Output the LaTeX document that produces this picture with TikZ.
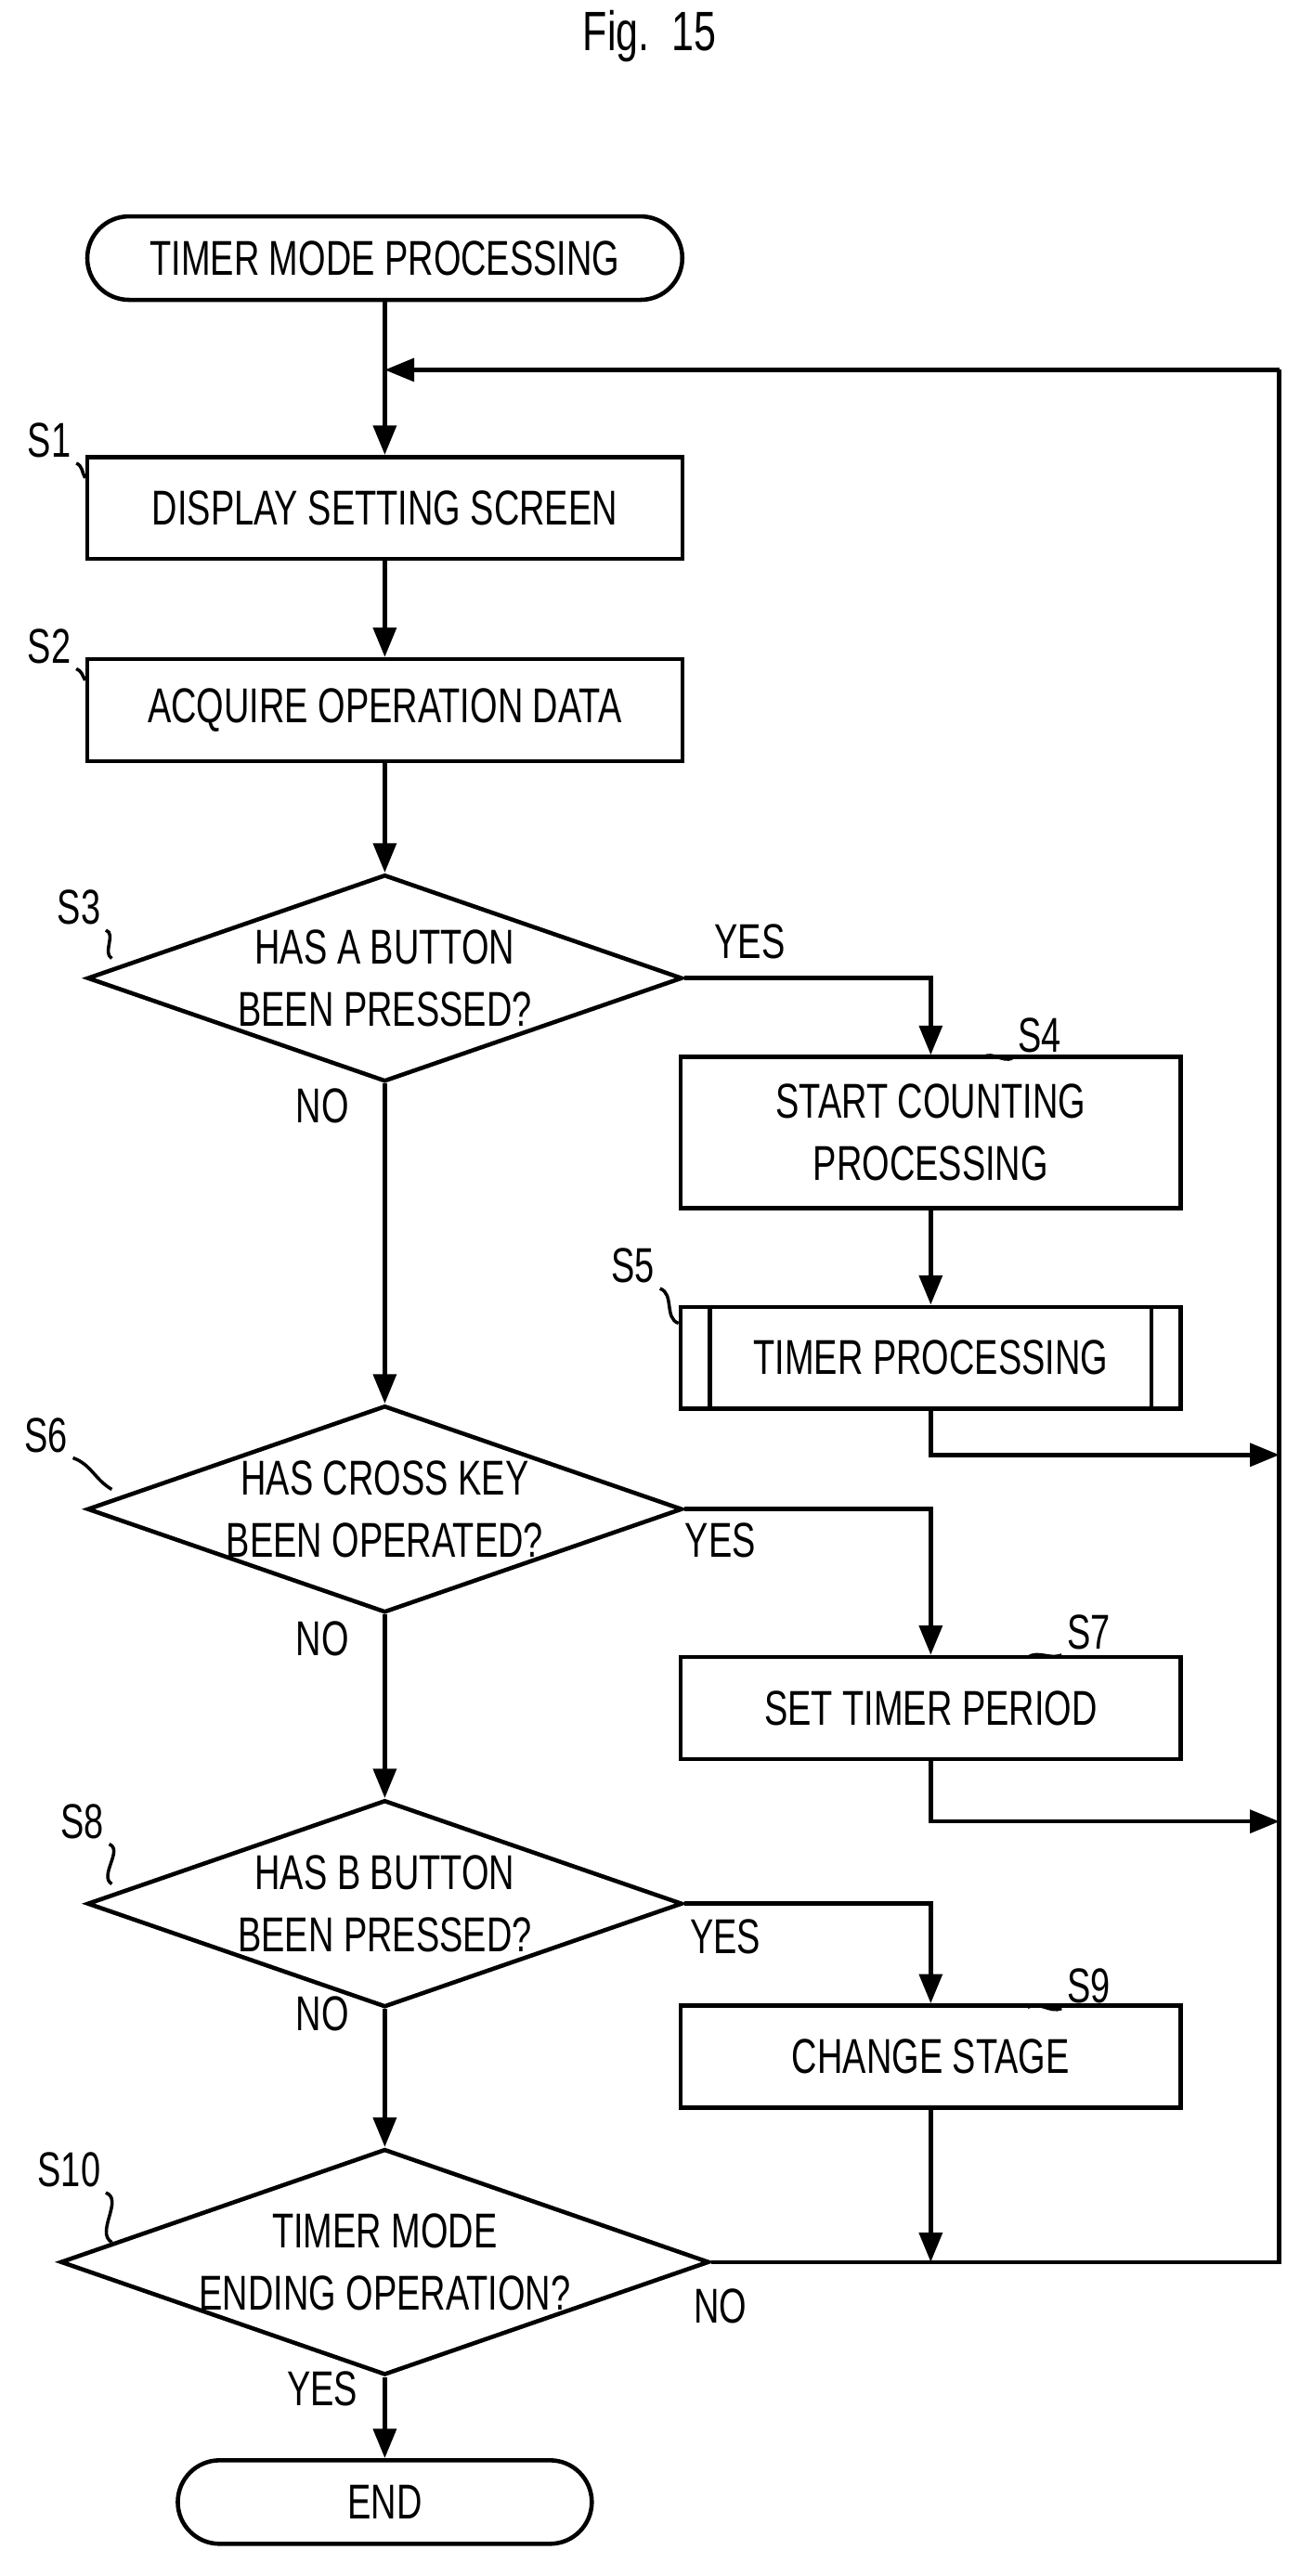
\documentclass[tikz,border=0pt]{standalone}
\usepackage{fontspec}
\setmainfont{Liberation Sans}[FakeStretch=0.72]
\usetikzlibrary{shapes.geometric,arrows.meta}
\begin{document}
\begin{tikzpicture}[x=0.01771cm,y=-0.01771cm,
  font=\fontsize{15}{19}\selectfont,
  every path/.style={line width=1.3pt},
  box/.style={draw,minimum width=5.39cm,minimum height=1.1cm,align=center,inner sep=0},
  term/.style={draw,rounded corners=0.45cm,minimum height=0.9cm,align=center,inner sep=0},
  dia/.style={draw,diamond,shape aspect=2.87,minimum width=6.41cm,minimum height=2.23cm,align=center,inner sep=0},
  arr/.style={-{Triangle[length=9pt,width=7pt]}},
  lab/.style={inner sep=1pt},
  call/.style={line width=1pt}]
\useasboundingbox (0,0) rectangle (790,1567);
\node[font=\fontsize{17}{20}\selectfont] (fig) at (395,22) {Fig.\ \ 15};
\node[term,minimum width=6.41cm] (start) at (234,157) {TIMER MODE PROCESSING};
\node[box,minimum width=6.41cm] (s1) at (234,309) {DISPLAY SETTING SCREEN};
\node[box,minimum width=6.41cm] (s2) at (234,432) {ACQUIRE OPERATION DATA};
\node[dia] (s3) at (234,595) {HAS A BUTTON\\BEEN PRESSED?};
\node[box,minimum height=1.63cm] (s4) at (566,689) {START COUNTING\\PROCESSING};
\node[box] (s5) at (566,826) {TIMER PROCESSING};
\draw ([xshift=0.34cm]s5.north west) -- ([xshift=0.34cm]s5.south west);
\draw ([xshift=-0.34cm]s5.north east) -- ([xshift=-0.34cm]s5.south east);
\node[dia] (s6) at (234,918) {HAS CROSS KEY\\BEEN OPERATED?};
\node[box] (s7) at (566,1039) {SET TIMER PERIOD};
\node[dia] (s8) at (234,1158) {HAS B BUTTON\\BEEN PRESSED?};
\node[box] (s9) at (566,1251) {CHANGE STAGE};
\node[dia] (s10) at (234,1376) {TIMER MODE\\ENDING OPERATION?};
\node[term,minimum width=4.46cm] (end) at (234,1522) {END};
\coordinate (rt) at (778,225);
\coordinate (rb) at (778,1376);
\coordinate (lt) at (234,225);
\coordinate (r5) at (778,885);
\coordinate (r7) at (778,1108);
% main flow
\draw (start) -- (lt);
\draw[arr] (lt) -- (s1);
\draw[arr] (s1) -- (s2);
\draw[arr] (s2) -- (s3);
\draw[arr] (s3) -- (s6);
\draw[arr] (s6) -- (s8);
\draw[arr] (s8) -- (s10);
\draw[arr] (s10) -- (end);
\draw[arr] (s3.east) -| (s4.north);
\draw[arr] (s4) -- (s5);
\draw[arr] (s5.south) |- (r5);
\draw[arr] (s6.east) -| (s7.north);
\draw[arr] (s7.south) |- (r7);
\draw[arr] (s8.east) -| (s9.north);
\draw[arr] (s9.south) -- (s9.south |- s10.east);
\draw (s10.east) -- (rb) -- (rt);
\draw[arr] (rt) -- (lt);
% branch labels
\node (y3) at (456,573) {YES};
\node (n3) at (196,673) {NO};
\node (y6) at (438,937) {YES};
\node (n6) at (196,997) {NO};
\node (y8) at (441,1178) {YES};
\node (n8) at (196,1225) {NO};
\node (n10) at (438,1403) {NO};
\node (y10) at (196,1453) {YES};
% step labels
\node[lab] (l1) at (30,268) {S1};
\node[lab] (l2) at (30,393) {S2};
\node[lab] (l3) at (48,552) {S3};
\node[lab] (l4) at (632,630) {S4};
\node[lab] (l5) at (385,770) {S5};
\node[lab] (l6) at (28,873) {S6};
\node[lab] (l7) at (662,993) {S7};
\node[lab] (l8) at (50,1108) {S8};
\node[lab] (l9) at (662,1208) {S9};
\node[lab] (l10) at (42,1320) {S10};
\draw[call] (l1.south east) to[out=-20,in=120] ([yshift=-0.25cm]s1.north west);
\draw[call] (l2.south east) to[out=-20,in=120] ([yshift=-0.25cm]s2.north west);
\draw[call] (l3.south east) to[out=-20,in=150] (68,583);
\draw[call] (l4.south west) to[out=200,in=30] (598,643);
\draw[call] (l5.south east) to[out=-20,in=160] ([yshift=-0.2cm]s5.north west);
\draw[call] (l6.south east) to[out=-20,in=150] (68,906);
\draw[call] (l7.south west) to[out=200,in=30] (625,1008);
\draw[call] (l8.south east) to[out=-20,in=150] (68,1146);
\draw[call] (l9.south west) to[out=200,in=30] (625,1221);
\draw[call] (l10.south east) to[out=-20,in=150] (68,1364);
\end{tikzpicture}
\end{document}
